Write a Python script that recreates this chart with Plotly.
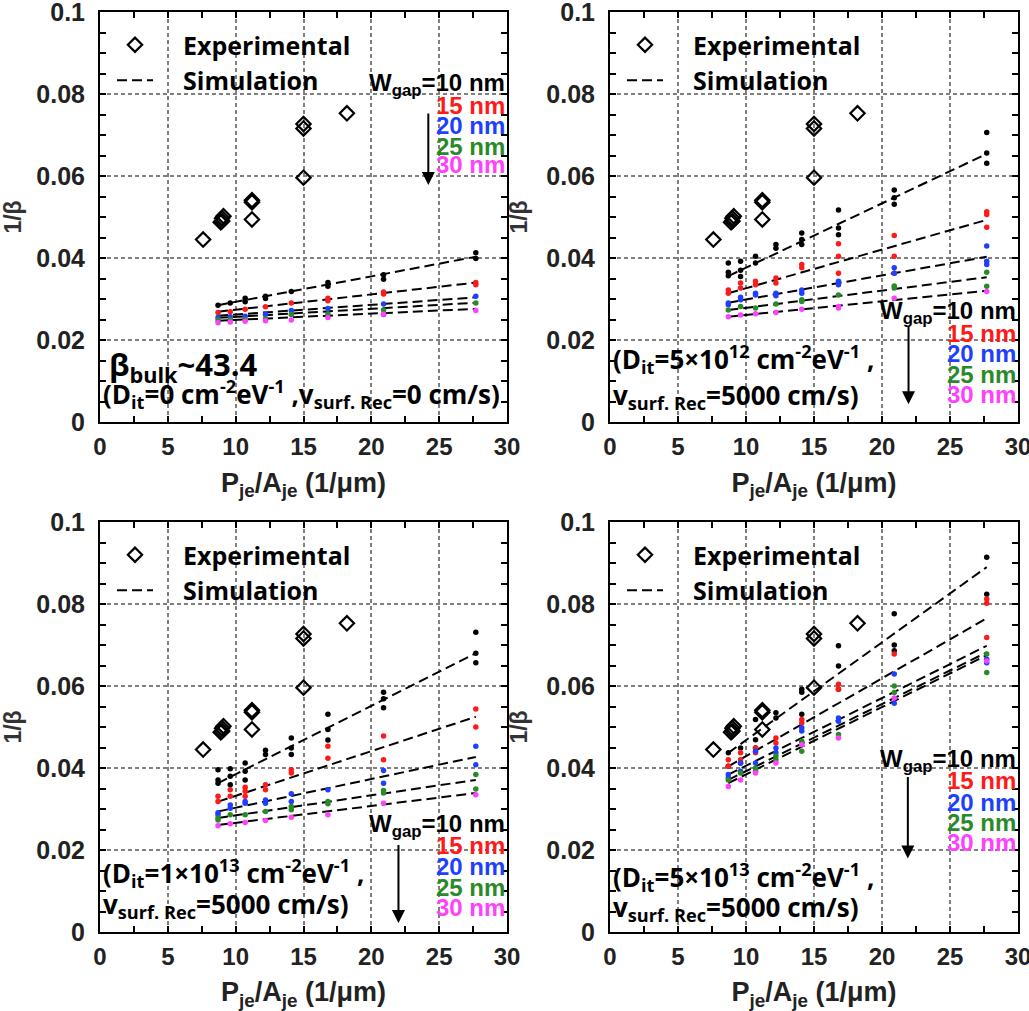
import plotly.graph_objects as go

# ---------------- data ----------------
sim_x = [8.7, 9.6, 10.7, 12.2, 14.1, 16.8, 20.9, 27.7]
line_x = [8.7, 27.7]

exp_x = [7.6, 8.9, 9.0, 9.0, 9.1, 11.2, 11.2, 11.2, 15.0, 15.0, 15.0, 18.2]
exp_y = [0.0445, 0.0487, 0.0490, 0.0497, 0.0502, 0.0541, 0.0536, 0.0494,
         0.0727, 0.0716, 0.0596, 0.0753]

w_labels = ["10 nm", "15 nm", "20 nm", "25 nm", "30 nm"]
w_colors = ["#000000", "#ff1a1a", "#1f3fff", "#2a8a2a", "#ff40ff"]

# panel 1 : Dit = 0
p1_dots = [
    [[0.0285], [0.0290], [0.0302, 0.0293], [0.0307, 0.0301], [0.0318], [0.0340, 0.0331], [0.0359, 0.0348], [0.0413, 0.0399]],
    [[0.0267], [0.0269], [0.0275], [0.0281], [0.0290], [0.0302, 0.0296], [0.0317, 0.0312], [0.0340, 0.0335]],
    [[0.0255], [0.0257], [0.0258], [0.0263], [0.0272], [0.0277], [0.0288, 0.0262], [0.0307]],
    [[0.0249], [0.0250], [0.0250], [0.0252], [0.0262], [0.0264], [0.0273], [0.0290]],
    [[0.0242], [0.0244], [0.0246], [0.0247], [0.0249], [0.0255], [0.0263], [0.0272]],
]
p1_line_start = [0.0285, 0.0269, 0.0259, 0.0254, 0.0247]
p1_line_end = [0.0403, 0.0340, 0.0304, 0.0291, 0.0276]

# panel 2 : Dit = 5e12
p2_dots = [
    [[0.0388, 0.0357, 0.0365], [0.0392, 0.0370, 0.0355], [0.0404, 0.0388], [0.0433, 0.0424], [0.0461, 0.0445, 0.0433], [0.0517, 0.0473, 0.0457], [0.0566, 0.0547, 0.0531], [0.0706, 0.0656, 0.0631]],
    [[0.0322, 0.0314], [0.0339, 0.0327], [0.0343, 0.0335], [0.0351, 0.0339], [0.0384, 0.0376], [0.0435, 0.0404, 0.0363], [0.0455, 0.0404, 0.0363], [0.0513, 0.0506, 0.0475]],
    [[0.0290, 0.0286], [0.0304, 0.0298], [0.0314, 0.0310], [0.0314, 0.0308], [0.0322, 0.0314], [0.0343, 0.0335], [0.0376, 0.0363], [0.0429, 0.0392, 0.0384]],
    [[0.0273], [0.0282], [0.0278], [0.0288], [0.0298, 0.0294], [0.0310], [0.0332, 0.0327], [0.0365, 0.0331]],
    [[0.0257], [0.0261], [0.0264], [0.0267], [0.0275], [0.0282, 0.0278], [0.0302], [0.0318]],
]
p2_line_start = [0.0356, 0.0314, 0.0291, 0.0273, 0.0257]
p2_line_end = [0.0654, 0.0493, 0.0403, 0.0353, 0.0320]

# panel 3 : Dit = 1e13
p3_dots = [
    [[0.0396, 0.0371, 0.0363], [0.0398, 0.0380, 0.0359], [0.0412, 0.0392, 0.0371], [0.0443, 0.0433], [0.0473, 0.0449, 0.0433], [0.0531, 0.0494, 0.0468], [0.0585, 0.0569, 0.0547], [0.0731, 0.0680, 0.0657]],
    [[0.0331, 0.0318], [0.0347, 0.0331], [0.0353, 0.0343, 0.0331], [0.0359, 0.0347], [0.0396, 0.0388], [0.0453, 0.0424], [0.0478, 0.0420], [0.0544, 0.0500]],
    [[0.0291, 0.0286], [0.0310, 0.0302], [0.0318, 0.0314], [0.0322, 0.0314], [0.0337, 0.0318], [0.0347], [0.0394, 0.0363], [0.0453, 0.0408]],
    [[0.0278, 0.0273], [0.0286], [0.0286], [0.0294], [0.0306, 0.0298], [0.0318, 0.0313], [0.0345, 0.0339], [0.0384, 0.0349]],
    [[0.0259], [0.0264], [0.0267], [0.0272], [0.0280], [0.0286], [0.0314], [0.0335]],
]
p3_line_start = [0.0363, 0.0318, 0.0294, 0.0278, 0.0261]
p3_line_end = [0.0680, 0.0525, 0.0427, 0.0371, 0.0339]

# panel 4 : Dit = 5e13
p4_dots = [
    [[0.0437, 0.0404], [0.0449, 0.0412], [0.0518, 0.0469, 0.0449], [0.0535, 0.0522], [0.0592, 0.0585, 0.0531], [0.0698, 0.0649, 0.0592], [0.0776, 0.0700, 0.0686], [0.0914, 0.0824]],
    [[0.0420, 0.0404], [0.0437, 0.0420], [0.0449, 0.0437], [0.0473, 0.0461], [0.0518, 0.0510], [0.0604, 0.0592], [0.0678], [0.0812, 0.0802, 0.0718]],
    [[0.0384, 0.0376], [0.0412, 0.0392], [0.0441, 0.0412], [0.0449, 0.0437], [0.0498, 0.0490], [0.0522, 0.0514], [0.0629, 0.0558], [0.0665, 0.0657]],
    [[0.0371], [0.0388], [0.0400, 0.0392], [0.0429, 0.0420], [0.0465, 0.0441], [0.0482], [0.0600, 0.0584], [0.0678, 0.0633]],
    [[0.0355], [0.0371], [0.0388], [0.0412], [0.0457], [0.0473], [0.0571], [0.0661]],
]
p4_line_start = [0.0437, 0.0404, 0.0384, 0.0371, 0.0363]
p4_line_end = [0.0890, 0.0765, 0.0698, 0.0682, 0.0675]

x_ticks = [0, 5, 10, 15, 20, 25, 30]
y_ticks = [0, 0.02, 0.04, 0.06, 0.08, 0.1]
y_ticktext = ["0", "0.02", "0.04", "0.06", "0.08", "0.1"]

cond_texts = [
    ["(D<sub>it</sub>=0 cm<sup>-2</sup>eV<sup>-1</sup> ,v<sub>surf. Rec</sub>=0 cm/s)"],
    ["(D<sub>it</sub>=5×10<sup>12</sup> cm<sup>-2</sup>eV<sup>-1</sup> ,", "v<sub>surf. Rec</sub>=5000 cm/s)"],
    ["(D<sub>it</sub>=1×10<sup>13</sup> cm<sup>-2</sup>eV<sup>-1</sup> ,", "v<sub>surf. Rec</sub>=5000 cm/s)"],
    ["(D<sub>it</sub>=5×10<sup>13</sup> cm<sup>-2</sup>eV<sup>-1</sup> ,", "v<sub>surf. Rec</sub>=5000 cm/s)"],
]
bulk_text = "β<sub>bulk</sub>~43.4"

# ---------------- layout geometry ----------------
W, H = 1029, 1011
col_px = [(100, 507), (610, 1018)]
row_px = [(12, 422), (522, 932)]

panels = [
    dict(dots=p1_dots, ls=p1_line_start, le=p1_line_end, col=0, row=0,
         wy=[0.0822, 0.0773, 0.0722, 0.0673, 0.0627], arrow_x=24.2, arrow_y=(0.0756, 0.0578),
         cond_y=[0.0068]),
    dict(dots=p2_dots, ls=p2_line_start, le=p2_line_end, col=1, row=0,
         wy=[0.0268, 0.0217, 0.0168, 0.0117, 0.0068], arrow_x=21.95, arrow_y=(0.0237, 0.0043),
         cond_y=[0.0153, 0.0064]),
    dict(dots=p3_dots, ls=p3_line_start, le=p3_line_end, col=0, row=1,
         wy=[0.0260, 0.0211, 0.0159, 0.0108, 0.0059], arrow_x=22.0, arrow_y=(0.0216, 0.0022),
         cond_y=[0.0144, 0.0065]),
    dict(dots=p4_dots, ls=p4_line_start, le=p4_line_end, col=1, row=1,
         wy=[0.0418, 0.0369, 0.0316, 0.0267, 0.0218], arrow_x=21.9, arrow_y=(0.0382, 0.0179),
         cond_y=[0.0134, 0.0058]),
]

ARIAL = "Liberation Sans, Arial"
TXTFONT = "Open Sans, Noto Sans, Arial"

fig = go.Figure()
layout = dict(width=W, height=H, margin=dict(l=0, r=0, t=0, b=0, autoexpand=False),
              paper_bgcolor="white", plot_bgcolor="white", annotations=[])

for i, p in enumerate(panels):
    n = i + 1
    xa = "x" if n == 1 else f"x{n}"
    ya = "y" if n == 1 else f"y{n}"
    lg = "legend" if n == 1 else f"legend{n}"
    x0, x1 = col_px[p["col"]]
    y0, y1 = row_px[p["row"]]

    # experimental
    fig.add_trace(go.Scatter(
        x=exp_x, y=exp_y, mode="markers", name="\u2003Experimental", xaxis=xa, yaxis=ya,
        marker=dict(symbol="diamond-open", size=11, color="black", line=dict(width=2.2, color="black")),
        legend=lg, showlegend=True))
    # simulation lines
    for k in range(5):
        fig.add_trace(go.Scatter(
            x=line_x, y=[p["ls"][k], p["le"][k]], mode="lines", name="\u2003Simulation",
            xaxis=xa, yaxis=ya, line=dict(color="black", width=2, dash="10px,5px"),
            legend=lg, showlegend=(k == 0)))
    # simulation dots
    for k in range(5):
        xs, ys = [], []
        for xv, vals in zip(sim_x, p["dots"][k]):
            for v in vals:
                xs.append(xv)
                ys.append(v)
        fig.add_trace(go.Scatter(
            x=xs, y=ys, mode="markers", xaxis=xa, yaxis=ya, showlegend=False,
            marker=dict(symbol="circle", size=5.5, color=w_colors[k])))

    common_axis = dict(showline=True, linecolor="black", linewidth=2, mirror="allticks",
                       ticks="inside", ticklen=6, tickwidth=1.5, tickcolor="black",
                       showgrid=True, gridcolor="#808080", gridwidth=1.5, griddash="4px,3px",
                       zeroline=False, automargin=False, ticklabeloverflow="allow")
    layout["xaxis" if n == 1 else f"xaxis{n}"] = dict(
        common_axis, domain=[x0 / W, x1 / W], range=[0, 30], anchor=ya,
        tickvals=x_ticks, ticklabelstandoff=2,
        tickfont=dict(family=ARIAL, size=24, color="#222", weight="bold"),
        minor=dict(dtick=2.5, ticks="inside", ticklen=6, tickcolor="black", showgrid=False),
        title=dict(text="P<sub>je</sub>/A<sub>je</sub> (1/μm)", standoff=14,
                   font=dict(family=ARIAL, size=27, color="#222", weight="bold")))
    layout["yaxis" if n == 1 else f"yaxis{n}"] = dict(
        common_axis, domain=[1 - y1 / H, 1 - y0 / H], range=[0, 0.1], anchor=xa,
        tickvals=y_ticks, ticktext=y_ticktext, ticklabelstandoff=8,
        tickfont=dict(family=ARIAL, size=25, color="#222", weight="bold"),
        minor=dict(dtick=0.005, ticks="inside", ticklen=6, tickcolor="black", showgrid=False),
        title=dict(text="1/β", standoff=12,
                   font=dict(family=ARIAL, size=23, color="#333", weight="bold")))

    # legend
    layout[lg] = dict(x=(x0 + 12) / W, y=1 - (y0 + 10) / H, xanchor="left", yanchor="top",
                      bgcolor="rgba(0,0,0,0)", traceorder="normal", itemwidth=36,
                      font=dict(family=TXTFONT, size=25, color="black", weight="bold"))

    # W_gap labels
    for k in range(5):
        txt = ("W<sub>gap</sub>=" + w_labels[k]) if k == 0 else w_labels[k]
        layout["annotations"].append(dict(
            x=1.0, y=p["wy"][k], xref=f"{xa} domain", yref=ya, text=txt, showarrow=False,
            xanchor="right", yanchor="middle",
            font=dict(family=ARIAL, size=24, color=w_colors[k], weight="bold")))
    # arrow
    layout["annotations"].append(dict(
        x=p["arrow_x"], y=p["arrow_y"][1], ax=p["arrow_x"], ay=p["arrow_y"][0],
        xref=xa, yref=ya, axref=xa, ayref=ya, text="", showarrow=True,
        arrowhead=2, arrowsize=1.3, arrowwidth=2, arrowcolor="black"))
    # condition texts
    for j, t in enumerate(cond_texts[i]):
        layout["annotations"].append(dict(
            x=0.1, y=p["cond_y"][j], xref=xa, yref=ya, text=t, showarrow=False,
            xanchor="left", yanchor="middle",
            font=dict(family=TXTFONT, size=26, color="black", weight="bold")))
    if n == 1:
        layout["annotations"].append(dict(
            x=0.5, y=0.0136, xref=xa, yref=ya, text=bulk_text, showarrow=False,
            xanchor="left", yanchor="middle",
            font=dict(family=TXTFONT, size=31, color="black", weight="bold")))

fig.update_layout(**layout)
fig.write_html("out.html", config={"displayModeBar": False},
               post_script="document.body.style.margin='0';document.body.style.overflow='hidden';")
